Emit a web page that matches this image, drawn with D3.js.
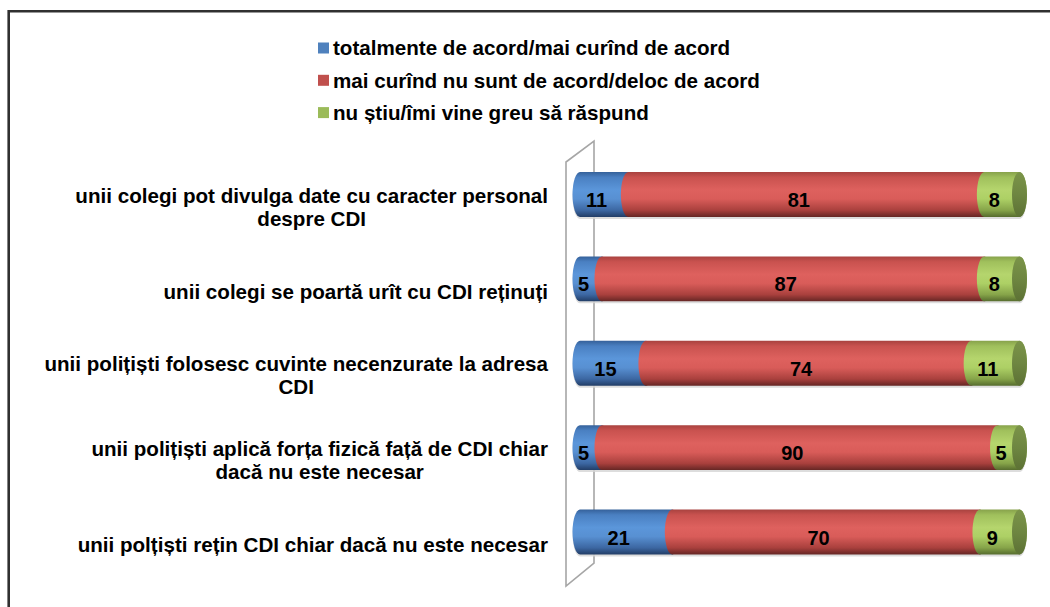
<!DOCTYPE html>
<html>
<head>
<meta charset="utf-8">
<script src="https://cdn.jsdelivr.net/npm/d3@7/dist/d3.min.js"></script>
<style>
  html, body { margin: 0; padding: 0; background: #fff; }
  svg { display: block; font-family: "Liberation Sans", Arial, sans-serif; font-weight: bold; }
</style>
</head>
<body>
<svg id="chart" width="1050" height="607"></svg>
<script>
// Survey statements (top to bottom), line breaks as drawn
const categories = [
  "unii colegi pot divulga date cu caracter personal\ndespre CDI",
  "unii colegi se poartă urît cu CDI reținuți",
  "unii polițiști folosesc cuvinte necenzurate la adresa\nCDI",
  "unii polițiști aplică forța fizică față de CDI chiar\ndacă nu este necesar",
  "unii polțiști rețin CDI chiar dacă nu este necesar"
];
const seriesNames = [
  "totalmente de acord/mai curînd de acord",
  "mai curînd nu sunt de acord/deloc de acord",
  "nu știu/îmi vine greu să răspund"
];
const agree    = [11, 5, 15, 5, 21];
const disagree = [81, 87, 74, 90, 70];
const dontKnow = [8, 8, 11, 5, 9];

const series = [agree, disagree, dontKnow];
const palette = [
  { id: "gBlue",  stops: ["#35619a", "#4a80c2", "#5b96da", "#5890d2", "#3c67a2", "#223d66"] },
  { id: "gRed",   stops: ["#a8423f", "#c9524f", "#de615e", "#d95c59", "#a9403d", "#652624"] },
  { id: "gGreen", stops: ["#87a24b", "#a0c05c", "#b5d56d", "#add065", "#86a449", "#566c2e"] }
];
const legendColors = ["#4f81bd", "#c0504d", "#9bbb59"];

const svg = d3.select("#chart");
const defs = svg.append("defs");
const offsets = [0, 0.12, 0.4, 0.6, 0.85, 1];
palette.forEach(p => {
  const g = defs.append("linearGradient").attr("id", p.id)
    .attr("x1", 0).attr("y1", 0).attr("x2", 0).attr("y2", 1);
  p.stops.forEach((c, i) => g.append("stop").attr("offset", offsets[i]).attr("stop-color", c));
});
const cap = defs.append("linearGradient").attr("id", "gCap")
  .attr("x1", 0).attr("y1", 0).attr("x2", 0).attr("y2", 1);
cap.append("stop").attr("offset", 0).attr("stop-color", "#7b9449");
cap.append("stop").attr("offset", 0.5).attr("stop-color", "#6e8641");
cap.append("stop").attr("offset", 1).attr("stop-color", "#5c7134");

// Outer frame
svg.append("path")
  .attr("d", "M8.7,607 L8.7,11.3 L1050,11.3")
  .attr("fill", "none").attr("stroke", "#303030").attr("stroke-width", 2.6);

// Scales
const x = d3.scaleLinear().domain([0, 100]).range([580, 1019.5]);
const y = d3.scaleBand().domain(categories).range([152.3, 574.2])
  .paddingInner(0.467).paddingOuter(0.2335);
const ry = y.bandwidth() / 2;
const rx = 7.5;

// Back wall of the 3D plot area
svg.append("path")
  .attr("d", "M566,586 L566,162 L594,141 L594,563 Z")
  .attr("fill", "none").attr("stroke", "#a6a6a6").attr("stroke-width", 1.6);

// Stacked segments
const rows = categories.map((c, i) => {
  let acc = 0;
  return series.map((s, k) => {
    const seg = { cat: c, k, v: s[i], x0: acc, x1: acc + s[i] };
    acc += s[i];
    return seg;
  });
});

function cylinder(a, b, cy) {
  return `M${a},${cy - ry} L${b},${cy - ry} A${rx},${ry} 0 0 1 ${b},${cy + ry}` +
         ` L${a},${cy + ry} A${rx},${ry} 0 0 1 ${a},${cy - ry} Z`;
}

const rowG = svg.append("g").selectAll("g").data(rows).join("g");

// soft shadow under each bar
rowG.append("path")
  .attr("d", d => cylinder(x(0), x(100), y(d[0].cat) + ry + 2))
  .attr("fill", "#d4d4d4").attr("opacity", 0.8);

rowG.selectAll("path.seg").data(d => d).join("path")
  .attr("class", "seg")
  .attr("d", d => cylinder(x(d.x0), x(d.x1), y(d.cat) + ry))
  .attr("fill", d => `url(#${palette[d.k].id})`);

// visible end face of the last segment
rowG.append("ellipse")
  .attr("cx", d => x(d[d.length - 1].x1))
  .attr("cy", d => y(d[0].cat) + ry)
  .attr("rx", rx).attr("ry", ry)
  .attr("fill", "url(#gCap)");

// value labels
rowG.selectAll("text").data(d => d).join("text")
  .attr("x", d => (x(d.x0) + x(d.x1)) / 2 - rx)
  .attr("y", d => y(d.cat) + ry + 5.5)
  .attr("dy", "0.35em")
  .attr("text-anchor", "middle")
  .attr("font-size", 20)
  .attr("fill", "#000")
  .text(d => d.v);

// category labels, centred lines, right-aligned block
const labelRight = 548;
const lineH = 23;
categories.forEach(c => {
  const lines = c.split("\n");
  const cy = y(c) + ry + 12.5;
  const t = svg.append("g");
  const texts = lines.map((ln, i) => t.append("text")
    .attr("y", cy + (i - (lines.length - 1) / 2) * lineH)
    .attr("dy", "0.35em")
    .attr("text-anchor", "middle")
    .attr("font-size", 20.6)
    .attr("fill", "#000")
    .text(ln));
  const maxW = d3.max(texts, s => s.node().getComputedTextLength());
  texts.forEach(s => s.attr("x", labelRight - maxW / 2));
});

// legend
const leg = svg.append("g").selectAll("g").data(seriesNames).join("g")
  .attr("transform", (d, i) => `translate(318,${42.5 + i * 32.3})`);
leg.append("rect").attr("width", 11).attr("height", 11)
  .attr("fill", (d, i) => legendColors[i]);
leg.append("text").attr("x", 15).attr("y", 5.5).attr("dy", "0.35em")
  .attr("font-size", 20.6).attr("fill", "#000").text(d => d);
</script>
</body>
</html>
